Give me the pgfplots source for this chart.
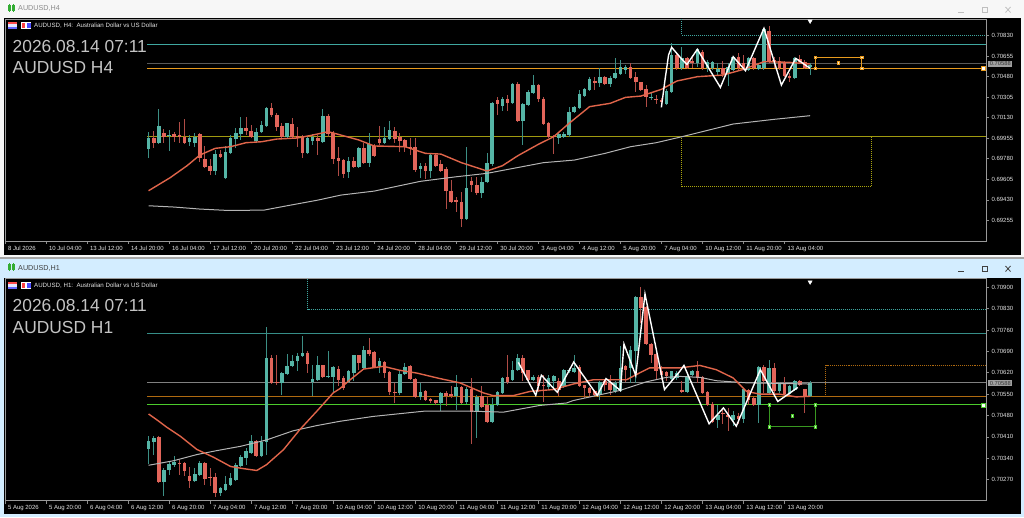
\documentclass[border=0pt]{standalone}
\usepackage{fontspec}
\setmainfont{Liberation Sans}
\usepackage{pgfplots}
\usepackage{pgfplotstable}
\pgfplotsset{compat=1.18}

\definecolor{bull}{HTML}{55B5A6}
\definecolor{bear}{HTML}{E2655A}
\definecolor{bullw}{HTML}{3C8F85}
\definecolor{bearw}{HTML}{B04C46}
\definecolor{ma20}{HTML}{E0654A}
\definecolor{ma200}{HTML}{B4B4B4}
\definecolor{tealln}{HTML}{3FA7A0}
\definecolor{orgA}{HTML}{E89B1E}
\definecolor{orgB}{HTML}{B06A10}
\definecolor{yel}{HTML}{A09A10}
\definecolor{grn}{HTML}{4CCB2C}
\definecolor{lbl}{HTML}{E4E4E4}
\definecolor{bigtxt}{HTML}{C4C4C4}

% H4 candles
\pgfplotstableread{
i o h l c
0 .69863 .70010 .69783 .69953
2 .69916 .70204 .69910 .70058
4 .69976 .70024 .69848 .69982
8 .69922 .69982 .69888 .69956
9 .69916 .69996 .69882 .69962
13 .69675 .69854 .69641 .69825
15 .69613 .69888 .69605 .69837
16 .69831 .69982 .69825 .69953
17 .69951 .70039 .69868 .69996
18 .69990 .70133 .69939 .70039
21 .69931 .70039 .69911 .70010
22 .70005 .70104 .69996 .70067
23 .70061 .70218 .70053 .70215
27 .69962 .70081 .69953 .70081
31 .69831 .69968 .69825 .69953
32 .69928 .69990 .69897 .69962
34 .69925 .70204 .69920 .70144
39 .69664 .69798 .69613 .69760
41 .69712 .69882 .69698 .69874
43 .69746 .69996 .69712 .69903
46 .69916 .70053 .69911 .69959
47 .69951 .70104 .69945 .70024
53 .69693 .69741 .69613 .69721
55 .69678 .69820 .69613 .69811
62 .69267 .69877 .69258 .69528
65 .69485 .69627 .69443 .69585
66 .69579 .69831 .69576 .69741
67 .69735 .70266 .69718 .70258
69 .70232 .70309 .70189 .70286
71 .70255 .70422 .70246 .70414
73 .70101 .70252 .69897 .70246
74 .70238 .70365 .70235 .70346
75 .70337 .70493 .70331 .70411
80 .69956 .70010 .69903 .69990
81 .69968 .70010 .69953 .69987
82 .69982 .70223 .69968 .70181
83 .70175 .70229 .70167 .70221
84 .70215 .70365 .70209 .70331
85 .70314 .70380 .70309 .70374
86 .70369 .70473 .70365 .70456
88 .70422 .70550 .70388 .70476
90 .70414 .70485 .70388 .70468
91 .70468 .70635 .70459 .70507
92 .70502 .70621 .70493 .70561
93 .70536 .70578 .70502 .70561
98 .70303 .70337 .70280 .70309
101 .70246 .70371 .70240 .70360
102 .70351 .70763 .70345 .70664
104 .70550 .70735 .70536 .70635
107 .70593 .70717 .70564 .70712
109 .70550 .70621 .70522 .70607
110 .70550 .70615 .70536 .70607
111 .70522 .70593 .70493 .70544
113 .70502 .70593 .70399 .70564
114 .70536 .70655 .70530 .70649
117 .70536 .70649 .70530 .70635
119 .70544 .70593 .70536 .70578
120 .70550 .70891 .70536 .70885
126 .70465 .70644 .70456 .70635
129 .70564 .70593 .70490 .70581
}\upA
\pgfplotstableread{
i o h l c
1 .69953 .70019 .69868 .69916
3 .69999 .70030 .69911 .69962
5 .69987 .70010 .69925 .69968
6 .69982 .70095 .69911 .69968
7 .69968 .70115 .69905 .69916
10 .69987 .69996 .69755 .69783
11 .69780 .69888 .69698 .69712
12 .69721 .69774 .69641 .69675
14 .69825 .69854 .69783 .69792
19 .70039 .70138 .69982 .70019
20 .70019 .70067 .69953 .69968
24 .70215 .70258 .70138 .70152
25 .70152 .70167 .70019 .70053
26 .70061 .70081 .69953 .69962
28 .70076 .70124 .69953 .69962
29 .69973 .70053 .69882 .69953
30 .69962 .69982 .69783 .69831
33 .69953 .69982 .69811 .69931
35 .70144 .70161 .69968 .69987
36 .69996 .70019 .69735 .69774
37 .69783 .69882 .69636 .69763
38 .69769 .69774 .69613 .69650
40 .69758 .69798 .69705 .69712
42 .69868 .69911 .69735 .69741
44 .69891 .69905 .69795 .69803
45 .69945 .70058 .69897 .69911
48 .70019 .70053 .69911 .69945
49 .69968 .69996 .69840 .69928
50 .69939 .69945 .69840 .69882
51 .69882 .69953 .69811 .69868
52 .69877 .69953 .69670 .69684
54 .69721 .69741 .69605 .69678
56 .69811 .69825 .69712 .69721
57 .69732 .69769 .69664 .69678
58 .69690 .69712 .69352 .69505
59 .69508 .69599 .69400 .69414
60 .69426 .69457 .69329 .69412
61 .69414 .69500 .69202 .69270
63 .69593 .69627 .69500 .69554
64 .69556 .69627 .69471 .69485
68 .70280 .70309 .70152 .70246
70 .70292 .70323 .70189 .70255
72 .70414 .70436 .70093 .70101
76 .70411 .70417 .70266 .70286
77 .70292 .70303 .70067 .70073
78 .70087 .70095 .69953 .69962
79 .69976 .69982 .69825 .69962
87 .70445 .70473 .70365 .70422
89 .70473 .70485 .70408 .70417
94 .70561 .70598 .70459 .70465
95 .70473 .70522 .70346 .70431
96 .70431 .70436 .70360 .70365
97 .70371 .70408 .70218 .70309
99 .70289 .70323 .70243 .70280
100 .70280 .70294 .70218 .70266
103 .70664 .70678 .70536 .70550
105 .70635 .70649 .70541 .70550
106 .70612 .70649 .70550 .70593
108 .70692 .70706 .70536 .70550
112 .70550 .70615 .70473 .70502
115 .70649 .70678 .70536 .70550
116 .70593 .70664 .70536 .70544
118 .70635 .70644 .70536 .70550
121 .70871 .70911 .70593 .70607
122 .70621 .70649 .70550 .70604
123 .70612 .70649 .70536 .70550
124 .70604 .70615 .70473 .70485
125 .70485 .70507 .70436 .70465
127 .70627 .70664 .70593 .70607
128 .70607 .70621 .70547 .70550
}\dnA

% H1 candles
\pgfplotstableread{
i o h l c
0 .70371 .70412 .70321 .70398
1 .70393 .70412 .70352 .70406
3 .70262 .70308 .70218 .70303
4 .70300 .70328 .70286 .70321
5 .70319 .70346 .70313 .70328
9 .70264 .70308 .70262 .70288
10 .70286 .70330 .70284 .70324
14 .70226 .70245 .70218 .70243
15 .70237 .70281 .70235 .70256
16 .70254 .70292 .70251 .70275
17 .70270 .70324 .70267 .70319
18 .70314 .70352 .70312 .70343
19 .70341 .70374 .70319 .70363
20 .70357 .70415 .70354 .70398
22 .70348 .70412 .70345 .70393
23 .70393 .70769 .70352 .70668
26 .70585 .70622 .70548 .70618
27 .70616 .70682 .70614 .70643
28 .70641 .70679 .70638 .70660
29 .70657 .70685 .70625 .70676
30 .70674 .70739 .70673 .70686
32 .70590 .70644 .70544 .70600
33 .70596 .70674 .70594 .70644
35 .70605 .70692 .70603 .70608
36 .70606 .70641 .70557 .70638
39 .70590 .70630 .70587 .70625
40 .70619 .70679 .70594 .70677
42 .70636 .70707 .70632 .70696
45 .70641 .70668 .70619 .70657
49 .70554 .70630 .70548 .70617
50 .70615 .70652 .70614 .70640
53 .70540 .70587 .70532 .70556
57 .70522 .70556 .70494 .70554
60 .70543 .70614 .70499 .70572
62 .70523 .70572 .70518 .70568
64 .70491 .70548 .70406 .70540
67 .70459 .70537 .70455 .70515
68 .70513 .70559 .70510 .70557
69 .70554 .70605 .70550 .70603
71 .70597 .70657 .70594 .70630
72 .70628 .70682 .70625 .70668
75 .70597 .70614 .70592 .70605
78 .70572 .70614 .70565 .70603
79 .70592 .70614 .70565 .70611
81 .70576 .70632 .70570 .70630
82 .70625 .70636 .70619 .70630
83 .70622 .70677 .70619 .70636
88 .70546 .70592 .70532 .70590
91 .70559 .70592 .70554 .70587
92 .70561 .70707 .70559 .70636
94 .70636 .70707 .70587 .70696
95 .70690 .70870 .70587 .70868
102 .70601 .70627 .70592 .70625
103 .70603 .70625 .70597 .70619
105 .70557 .70614 .70554 .70608
106 .70612 .70630 .70608 .70627
111 .70466 .70515 .70439 .70483
114 .70466 .70496 .70445 .70481
116 .70470 .70570 .70455 .70567
119 .70515 .70641 .70455 .70638
121 .70554 .70663 .70548 .70636
123 .70559 .70590 .70554 .70587
125 .70550 .70581 .70543 .70578
126 .70565 .70597 .70559 .70592
129 .70543 .70592 .70540 .70587
}\upB
\pgfplotstableread{
i o h l c
2 .70409 .70412 .70259 .70262
6 .70324 .70335 .70286 .70321
7 .70324 .70328 .70281 .70299
8 .70282 .70310 .70243 .70264
11 .70323 .70328 .70254 .70273
12 .70280 .70308 .70248 .70275
13 .70279 .70292 .70214 .70226
21 .70395 .70401 .70345 .70348
24 .70668 .70679 .70583 .70587
25 .70590 .70679 .70581 .70585
31 .70686 .70690 .70619 .70649
34 .70644 .70647 .70603 .70605
37 .70632 .70641 .70576 .70597
38 .70603 .70608 .70565 .70570
41 .70677 .70679 .70630 .70651
43 .70696 .70734 .70674 .70682
44 .70687 .70690 .70634 .70636
46 .70655 .70657 .70603 .70620
47 .70622 .70625 .70546 .70556
48 .70556 .70587 .70521 .70555
51 .70641 .70647 .70597 .70601
52 .70601 .70603 .70537 .70540
54 .70559 .70565 .70529 .70532
55 .70535 .70537 .70521 .70526
56 .70530 .70532 .70513 .70520
58 .70554 .70561 .70510 .70543
59 .70550 .70576 .70537 .70543
61 .70572 .70576 .70518 .70521
63 .70568 .70603 .70387 .70491
65 .70543 .70576 .70505 .70508
66 .70513 .70543 .70455 .70459
70 .70605 .70677 .70583 .70590
73 .70668 .70679 .70594 .70619
74 .70628 .70630 .70594 .70597
76 .70606 .70614 .70557 .70576
77 .70581 .70614 .70524 .70576
80 .70594 .70603 .70543 .70565
84 .70638 .70644 .70572 .70576
85 .70579 .70581 .70537 .70570
86 .70570 .70572 .70540 .70554
87 .70559 .70565 .70543 .70548
89 .70592 .70597 .70559 .70581
90 .70587 .70614 .70548 .70565
93 .70641 .70647 .70590 .70630
96 .70868 .70900 .70783 .70832
97 .70834 .70838 .70710 .70714
98 .70714 .70718 .70652 .70679
99 .70682 .70685 .70597 .70625
100 .70625 .70641 .70597 .70614
101 .70622 .70625 .70594 .70608
104 .70565 .70592 .70553 .70556
107 .70627 .70657 .70587 .70603
108 .70605 .70608 .70550 .70554
109 .70556 .70559 .70510 .70515
110 .70518 .70524 .70455 .70459
112 .70488 .70505 .70452 .70485
113 .70483 .70505 .70428 .70474
115 .70478 .70488 .70452 .70470
117 .70565 .70568 .70515 .70532
118 .70537 .70540 .70510 .70515
120 .70638 .70644 .70554 .70592
122 .70636 .70652 .70554 .70559
124 .70583 .70605 .70548 .70550
127 .70592 .70597 .70576 .70581
128 .70567 .70568 .70488 .70543
}\dnB

% wick and body of one set of candles: table, wick colour, body colour
\newcommand{\candles}[3]{
  \addplot[draw=none,mark=none,forget plot,error bars/.cd,y dir=both,y explicit,error mark=none,
    error bar style={draw=#2,line width=1pt,solid}]
    table[x=i,y=o,y error plus expr={\thisrow{h}-\thisrow{o}},y error minus expr={\thisrow{o}-\thisrow{l}}] {#1};
  \addplot[draw=none,mark=none,forget plot,error bars/.cd,y dir=both,y explicit,error mark=none,
    error bar style={draw=#3,line width=3.6pt,solid}]
    table[x=i,y=o,y error plus expr={max(\thisrow{c}-\thisrow{o},0)},y error minus expr={max(\thisrow{o}-\thisrow{c},0)}] {#1};
}

\pgfplotsset{mtchart/.style={
  scale only axis,width=981pt,anchor=south west,
  xmin=-28,xmax=163.3,
  axis background/.style={fill=black},
  clip mode=individual,
  axis line style={draw=gray!80,line width=0.8pt},
  tick style={draw=gray!90,line width=0.7pt},
  major tick length=3pt,tick align=outside,
  xtick pos=bottom,ytick pos=right,yticklabel pos=right,
  xtick={-28,-20,...,124},
  xticklabel style={anchor=north west,xshift=-0.5pt,yshift=1.5pt,font=\fontsize{6}{6.5}\selectfont,text=lbl},
  yticklabel style={xshift=-1pt,font=\fontsize{6}{6.5}\selectfont,text=lbl},
}}

\begin{document}
\begin{tikzpicture}
\path[use as bounding box] (0,0) rectangle (1024pt,517pt);
\begin{scope}[x=1pt,y=-1pt,yshift=517pt]
  \fill[white!94!gray] (0,0) rectangle (1024,258);
  \fill[black] (4,18) rectangle (1021,255);
  \fill[gray!70] (0,257.5) rectangle (1024,259);
  \fill[white!92!blue!90!cyan] (0,259) rectangle (1024,517);
  \fill[black] (4,278) rectangle (1021,514);
\end{scope}

\begin{axis}[mtchart,at={(5pt,276pt)},height=221.5pt,
  ymin=0.69080,ymax=0.70966,
  ytick={0.70830,0.70655,0.70480,0.70305,0.70130,0.69955,0.69780,0.69605,0.69430,0.69255},
  yticklabels={0.70830,0.70655,0.70480,0.70305,0.70130,0.69955,0.69780,0.69605,0.69430,0.69255},
  xticklabels={8 Jul 2026,10 Jul 04:00,13 Jul 12:00,14 Jul 20:00,16 Jul 04:00,17 Jul 12:00,20 Jul 20:00,22 Jul 04:00,23 Jul 12:00,24 Jul 20:00,28 Jul 04:00,29 Jul 12:00,30 Jul 20:00,3 Aug 04:00,4 Aug 12:00,5 Aug 20:00,7 Aug 04:00,10 Aug 12:00,11 Aug 20:00,13 Aug 04:00},
]
\addplot[tealln,line width=1pt] coordinates {(-0.3,.70754) (163.3,.70754)};
\addplot[black!65!white,line width=1.6pt] coordinates {(-0.3,.70590) (163.3,.70590)};
\addplot[orgA,line width=1.2pt] coordinates {(-0.3,.70549) (163.3,.70549)};
\addplot[yel,line width=1pt] coordinates {(-0.3,.69974) (163.3,.69974)};
% dotted objects
\addplot[tealln,densely dotted,line width=1pt] coordinates {(104,.70966) (104,.70830) (163.3,.70830)};
\addplot[yel!90!yellow,densely dotted,line width=1pt] coordinates {(104,.69974) (104,.69548) (141,.69548) (141,.69974)};
\candles{\upA}{bullw}{bull}
\candles{\dnA}{bearw}{bear}
% moving averages
\addplot[ma200,line width=1pt] coordinates {(0,.69380) (5,.69369) (10,.69352) (15.5,.69340) (22.5,.69343) (27,.69380) (33,.69428) (37.5,.69471) (44,.69505) (53,.69588) (60,.69627) (66,.69656) (77,.69747) (83,.69769) (89,.69826) (94,.69883) (99,.69917) (104,.69968) (114,.70076) (122,.70116) (129,.70147)};
\addplot[ma20,line width=1.4pt] coordinates {(0,.69508) (4.2,.69619) (7.5,.69721) (10,.69812) (13,.69869) (16,.69883) (19,.69917) (22,.69925) (25,.69948) (29,.69957) (32,.69982) (35,.70011) (37,.69988) (41,.69940) (44,.69889) (50,.69883) (54,.69826) (57,.69820) (61,.69747) (66,.69676) (69,.69721) (72,.69806) (76,.69903) (79,.69968) (82,.70082) (86,.70224) (90,.70252) (93,.70303) (96,.70314) (100,.70371) (103,.70442) (107,.70479) (112,.70493) (116,.70541) (120,.70607) (125,.70601) (129,.70587)};
\addplot[white,line width=1.4pt] coordinates {(100,.70218) (100.7,.70451) (101.4,.70664) (102,.70729) (104,.70627) (105,.70584) (107,.70712) (111.5,.70388) (114,.70649) (116.4,.70530) (120,.70891) (123.4,.70408) (126.2,.70635) (129,.70550)};
% selected rectangle with its handles
\addplot[orgA,line width=0.9pt] coordinates {(130,.70644) (139,.70644) (139,.70550) (130,.70550) (130,.70644)};
\addplot[only marks,mark=square*,mark size=1.3pt,mark options={draw=orgA,fill=white!80!orgA}] coordinates {(130,.70644) (139,.70644) (130,.70550) (139,.70550) (134.5,.70597)};
\addplot[only marks,mark=square*,mark size=2pt,mark options={draw=orgA,fill=white}] coordinates {(162.7,.70549)};
\addplot[only marks,mark=triangle*,mark size=2.4pt,mark options={white,rotate=180}] coordinates {(129,.70952)};
\end{axis}

\begin{axis}[mtchart,at={(5pt,16.3pt)},height=222pt,
  ymin=0.70201,ymax=0.70928,
  ytick={0.70900,0.70830,0.70760,0.70690,0.70620,0.70550,0.70480,0.70410,0.70340,0.70270},
  yticklabels={0.70900,0.70830,0.70760,0.70690,0.70620,0.70550,0.70480,0.70410,0.70340,0.70270},
  xticklabels={5 Aug 2026,5 Aug 20:00,6 Aug 04:00,6 Aug 12:00,6 Aug 20:00,7 Aug 04:00,7 Aug 12:00,7 Aug 20:00,10 Aug 04:00,10 Aug 12:00,10 Aug 20:00,11 Aug 04:00,11 Aug 12:00,11 Aug 20:00,12 Aug 04:00,12 Aug 12:00,12 Aug 20:00,13 Aug 04:00,13 Aug 12:00,13 Aug 20:00},
]
\addplot[tealln!85!black,line width=1pt] coordinates {(-0.3,.70750) (163.3,.70750)};
\addplot[black!50!white,line width=1pt] coordinates {(-0.3,.70587) (163.3,.70587)};
\addplot[orgB,line width=1.1pt] coordinates {(-0.3,.70543) (163.3,.70543)};
\addplot[grn,line width=1.3pt] coordinates {(-0.3,.70515) (163.3,.70515)};
\addplot[tealln,densely dotted,line width=1pt] coordinates {(31,.70928) (31,.70827) (163.3,.70827)};
\addplot[orgB,densely dotted,line width=1.1pt] coordinates {(163.3,.70644) (132,.70644) (132,.70543) (163.3,.70543)};
\candles{\upB}{bullw}{bull}
\candles{\dnB}{bearw}{bear}
\addplot[ma200,line width=1pt] coordinates {(0,.70317) (4.9,.70332) (9.4,.70352) (13.3,.70365) (17.9,.70379) (23,.70400) (28.2,.70430) (32.8,.70447) (37.3,.70461) (43.8,.70477) (53.6,.70494) (63.3,.70494) (69.2,.70491) (76.3,.70513) (81.5,.70521) (82.8,.70529) (91.9,.70562) (97,.70590) (101,.70605) (103.6,.70608) (107.5,.70605) (110.7,.70594) (116.6,.70587) (129,.70583)};
\addplot[ma20,line width=1.4pt] coordinates {(0,.70485) (1.6,.70466) (3.6,.70441) (6.2,.70412) (9.4,.70369) (12.7,.70343) (16,.70313) (18.5,.70306) (21.1,.70300) (23,.70319) (26.3,.70368) (29.5,.70434) (32.8,.70494) (36,.70554) (37.3,.70568) (39.3,.70597) (41.9,.70632) (45.8,.70641) (49,.70628) (52.3,.70619) (56.8,.70601) (60.7,.70587) (65.3,.70554) (67.2,.70545) (71.1,.70545) (74.4,.70559) (78.9,.70565) (82.8,.70583) (86.7,.70597) (93.2,.70597) (95.1,.70614) (97.7,.70636) (103.6,.70636) (107.5,.70644) (110.7,.70630) (114,.70603) (116.6,.70559) (119.2,.70550) (123,.70550) (126.3,.70541) (129,.70543)};
\addplot[white,line width=1.4pt] coordinates {(72.1,.70654) (75.5,.70546) (76.6,.70612) (79.7,.70556) (82.9,.70655) (87.5,.70546) (89.2,.70601) (92,.70562) (92.7,.70714) (95,.70611) (96.8,.70878) (100.6,.70565) (103.6,.70625) (104.4,.70644) (109.3,.70453) (112.1,.70505) (114.6,.70445) (119.3,.70630) (122.7,.70526) (126.6,.70572)};
\addplot[grn!75!black,line width=0.9pt] coordinates {(121,.70515) (130,.70515) (130,.70443) (121,.70443) (121,.70515)};
\addplot[only marks,mark=square*,mark size=1.3pt,mark options={draw=grn,fill=white!75!grn}] coordinates {(121,.70515) (130,.70515) (121,.70443) (130,.70443) (125.5,.70479)};
\addplot[only marks,mark=square*,mark size=2pt,mark options={draw=grn,fill=white}] coordinates {(162.7,.70515)};
\addplot[only marks,mark=triangle*,mark size=2.4pt,mark options={white,rotate=180}] coordinates {(129,.70917)};
\end{axis}

\begin{scope}[x=1pt,y=-1pt,yshift=517pt]
  % window titles and buttons
  \node[anchor=west,inner sep=0,text=gray!90,font=\fontsize{7.2}{8}\selectfont] at (18,8) {AUDUSD,H4};
  \node[anchor=west,inner sep=0,text=black!75,font=\fontsize{7.2}{8}\selectfont] at (18,268) {AUDUSD,H1};
  \foreach \yy/\cc in {0/gray!50,259/black!75} {
    \draw[\cc,line width=0.8pt] (958,\yy+12) -- (964,\yy+12);
    \draw[\cc,line width=0.8pt] (982,\yy+7) rectangle (987,\yy+12.5);
    \draw[\cc,line width=0.8pt] (1005.5,\yy+7) -- (1010.5,\yy+12.5) (1005.5,\yy+12.5) -- (1010.5,\yy+7);
    \draw[green!60!black!80,line width=0.6pt] (8,\yy+5.5) rectangle (10,\yy+10.5) (12,\yy+5.5) rectangle (14,\yy+10.5) (9,\yy+4) -- (9,\yy+12) (13,\yy+4) -- (13,\yy+12);
  }
  % chart headers
  \foreach \yy/\tf/\dy/\dz in {26/H4/47/68,286/H1/306/328} {
    \fill[white!90!blue] (8,\yy-3.5) rectangle (17,\yy+3);
    \fill[red!70] (8,\yy-3.5) rectangle (17,\yy-1.5);
    \fill[blue!60] (8,\yy+1) rectangle (17,\yy+3);
    \fill[white] (21,\yy-3.5) rectangle (31,\yy+3);
    \fill[red!75] (21.5,\yy-3) rectangle (25,\yy+2.5);
    \fill[blue!70] (27,\yy-3) rectangle (30.5,\yy+2.5);
    \node[anchor=west,inner sep=0,text=lbl,font=\fontsize{6.15}{7}\selectfont] at (34,\yy) {AUDUSD, \tf:\ \ Australian Dollar vs US Dollar};
    \node[anchor=west,inner sep=0,text=bigtxt,font=\fontsize{17.4}{19}\selectfont] at (12.5,\dy) {2026.08.14 07:11};
    \node[anchor=west,inner sep=0,text=bigtxt,font=\fontsize{17.4}{19}\selectfont] at (12.5,\dz) {AUDUSD \tf};
  }
  % price tags
  \foreach \yy in {64,383.3} {
    \fill[gray!75] (988.3,\yy-3) rectangle (1012.3,\yy+3);
    \node[inner sep=0,text=black!80,font=\fontsize{5.8}{6}\selectfont] at (1000.3,\yy) {0.70588};
  }
\end{scope}
\end{tikzpicture}
\end{document}
